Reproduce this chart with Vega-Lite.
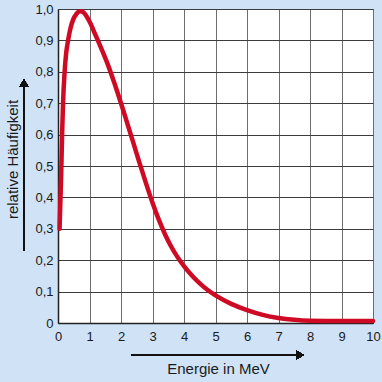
{
  "$schema": "https://vega.github.io/schema/vega-lite/v6.json",
  "width": 315,
  "height": 314,
  "autosize": {"type": "none"},
  "padding": {"left": 58, "top": 9, "right": 9, "bottom": 59},
  "background": "#cfe2f6",
  "data": {
    "values": [
      {"E": 0.05, "h": 0.3},
      {"E": 0.1, "h": 0.47},
      {"E": 0.13, "h": 0.6},
      {"E": 0.16, "h": 0.7},
      {"E": 0.21, "h": 0.8},
      {"E": 0.26, "h": 0.86},
      {"E": 0.32, "h": 0.9},
      {"E": 0.4, "h": 0.94},
      {"E": 0.48, "h": 0.966},
      {"E": 0.58, "h": 0.984},
      {"E": 0.7, "h": 0.993},
      {"E": 0.8, "h": 0.99},
      {"E": 0.9, "h": 0.978},
      {"E": 1.0, "h": 0.96},
      {"E": 1.2, "h": 0.915},
      {"E": 1.4, "h": 0.868},
      {"E": 1.6, "h": 0.818},
      {"E": 1.8, "h": 0.761},
      {"E": 2.0, "h": 0.7},
      {"E": 2.2, "h": 0.636},
      {"E": 2.4, "h": 0.571},
      {"E": 2.6, "h": 0.506},
      {"E": 2.8, "h": 0.443},
      {"E": 3.0, "h": 0.383},
      {"E": 3.2, "h": 0.329},
      {"E": 3.4, "h": 0.282},
      {"E": 3.6, "h": 0.242},
      {"E": 3.8, "h": 0.209},
      {"E": 4.0, "h": 0.181},
      {"E": 4.25, "h": 0.151},
      {"E": 4.5, "h": 0.126},
      {"E": 4.75, "h": 0.105},
      {"E": 5.0, "h": 0.088},
      {"E": 5.5, "h": 0.061},
      {"E": 6.0, "h": 0.041},
      {"E": 6.5, "h": 0.026},
      {"E": 7.0, "h": 0.016},
      {"E": 7.5, "h": 0.01},
      {"E": 8.0, "h": 0.007},
      {"E": 9.0, "h": 0.006},
      {"E": 10.0, "h": 0.006}
    ]
  },
  "config": {
    "font": "Liberation Sans",
    "view": {"fill": "white", "stroke": "#333", "strokeWidth": 1},
    "axisX": {
      "values": [0, 1, 2, 3, 4, 5, 6, 7, 8, 9, 10],
      "grid": true,
      "gridColor": "#6e6e6e",
      "gridOpacity": 1,
      "gridWidth": 1,
      "domainColor": "#222",
      "domainWidth": 1.5,
      "ticks": false,
      "tickSize": 0,
      "labelPadding": 7,
      "labelFontSize": 13,
      "labelColor": "#1a1a1a",
      "labelFlush": false,
      "labelOverlap": false,
      "titleFontSize": 15,
      "titleFontWeight": "normal",
      "titleColor": "#1a1a1a",
      "titleX": 160,
      "titleY": 50,
      "titleBaseline": "alphabetic",
      "titleAlign": "center"
    },
    "axisY": {
      "values": [0, 0.1, 0.2, 0.3, 0.4, 0.5, 0.6, 0.7, 0.8, 0.9, 1.0],
      "grid": true,
      "gridColor": "#3c3c3c",
      "gridOpacity": 1,
      "gridWidth": 1,
      "domainColor": "#222",
      "domainWidth": 1.5,
      "ticks": false,
      "tickSize": 0,
      "labelPadding": 5,
      "labelFontSize": 13,
      "labelColor": "#1a1a1a",
      "labelFlush": false,
      "labelOverlap": false,
      "labelExpr": "datum.value == 0 ? '0' : replace(format(datum.value, '.1f'), '.', ',')",
      "titleFontSize": 15,
      "titleFontWeight": "normal",
      "titleColor": "#1a1a1a",
      "titleAngle": -90,
      "titleX": -41,
      "titleY": 150,
      "titleBaseline": "alphabetic",
      "titleAlign": "center"
    }
  },
  "layer": [
    {
      "mark": {"type": "line", "color": "#cf0a24", "strokeWidth": 4.5, "interpolate": "monotone", "strokeCap": "round", "strokeJoin": "round"},
      "encoding": {
        "x": {"field": "E", "type": "quantitative", "title": "Energie in MeV", "scale": {"domain": [0, 10], "nice": false}},
        "y": {"field": "h", "type": "quantitative", "title": "relative Häufigkeit", "scale": {"domain": [0, 1], "nice": false}}
      }
    },
    {
      "mark": {"type": "rule", "color": "#111", "strokeWidth": 2},
      "encoding": {
        "x": {"datum": 2.32, "type": "quantitative", "title": "Energie in MeV", "scale": {"domain": [0, 10], "nice": false}},
        "x2": {"datum": 7.7},
        "y": {"datum": -0.102, "type": "quantitative", "title": "relative Häufigkeit", "scale": {"domain": [0, 1], "nice": false}}
      }
    },
    {
      "mark": {"type": "point", "shape": "triangle-right", "filled": true, "color": "#111", "size": 80, "opacity": 1},
      "encoding": {
        "x": {"datum": 7.68, "type": "quantitative", "title": "Energie in MeV", "scale": {"domain": [0, 10], "nice": false}},
        "y": {"datum": -0.102, "type": "quantitative", "title": "relative Häufigkeit", "scale": {"domain": [0, 1], "nice": false}}
      }
    },
    {
      "mark": {"type": "rule", "color": "#111", "strokeWidth": 2},
      "encoding": {
        "x": {"datum": -1.08, "type": "quantitative", "title": "Energie in MeV", "scale": {"domain": [0, 10], "nice": false}},
        "y": {"datum": 0.232, "type": "quantitative", "title": "relative Häufigkeit", "scale": {"domain": [0, 1], "nice": false}},
        "y2": {"datum": 0.764}
      }
    },
    {
      "mark": {"type": "point", "shape": "triangle-up", "filled": true, "color": "#111", "size": 80, "opacity": 1},
      "encoding": {
        "x": {"datum": -1.08, "type": "quantitative", "title": "Energie in MeV", "scale": {"domain": [0, 10], "nice": false}},
        "y": {"datum": 0.764, "type": "quantitative", "title": "relative Häufigkeit", "scale": {"domain": [0, 1], "nice": false}}
      }
    }
  ]
}
